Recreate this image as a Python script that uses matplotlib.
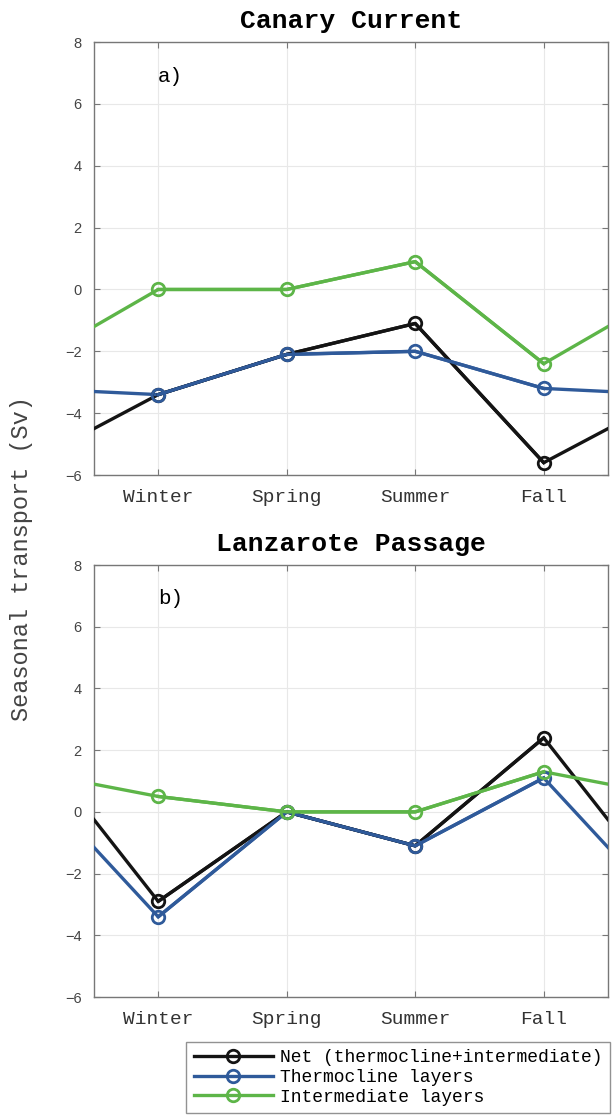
import numpy as np
import matplotlib
matplotlib.use('Agg')
import matplotlib.pyplot as plt

# season labels
seasons = ['Winter', 'Spring', 'Summer', 'Fall']

# a) Canary Current (Sv)
net_a = [-3.4, -2.1, -1.1, -5.6]
thermo_a = [-3.4, -2.1, -2.0, -3.2]
inter_a = [0.0, 0.0, 0.9, -2.4]
# values where the cyclic line meets the axis edges
net_a_edge = -4.5
thermo_a_edge = -3.3
inter_a_edge = -1.2

# b) Lanzarote Passage (Sv)
net_b = [-2.9, 0.0, -1.1, 2.4]
thermo_b = [-3.4, 0.0, -1.1, 1.1]
inter_b = [0.5, 0.0, 0.0, 1.3]
net_b_edge = -0.25
thermo_b_edge = -1.15
inter_b_edge = 0.9

labels = ['Net (thermocline+intermediate)', 'Thermocline layers', 'Intermediate layers']
colors = ['#141414', '#2f5a9a', '#5db548']

mono = 'Liberation Mono'
sans = 'Liberation Sans'

fig = plt.figure(figsize=(6.13, 11.18), dpi=100)
axA = fig.add_axes([0.1533, 0.5751, 0.8385, 0.3873])
axB = fig.add_axes([0.1533, 0.1082, 0.8385, 0.3864])

def panel(ax, series, edges, title, tag):
    xs = np.arange(1, len(seasons) + 1)
    xfull = np.concatenate([[0.5], xs, [len(seasons) + 0.5]])
    handles = []
    for vals, edge, col, lab in zip(series, edges, colors, labels):
        yfull = [edge] + list(vals) + [edge]
        ax.plot(xfull, yfull, '-', color=col, lw=2.4, zorder=3)
        h, = ax.plot(xs, vals, '-o', color=col, lw=2.4, ms=9, mfc='none',
                     mew=2.0, zorder=4, label=lab)
        handles.append(h)
    ax.set_xlim(0.5, len(seasons) + 0.5)
    ax.set_ylim(-6, 8)
    ax.set_xticks(xs)
    ax.set_xticklabels(seasons, family=mono, fontsize=14, color='#333333')
    ax.set_yticks(np.arange(-6, 9, 2))
    for t in ax.get_yticklabels():
        t.set_family(sans)
        t.set_fontsize(10.5)
        t.set_color('#444444')
    ax.tick_params(axis='x', direction='in', top=True, length=4, color='#777777', pad=10)
    ax.tick_params(axis='y', direction='in', right=True, length=4, color='#777777', pad=9)
    ax.grid(True, color='#e8e8e8', lw=0.8)
    ax.set_axisbelow(True)
    for s in ax.spines.values():
        s.set_color('#777777')
        s.set_linewidth(1.0)
    ax.set_title(title, family=mono, fontweight='bold', fontsize=19, pad=10)
    ax.text(1, 6.9, tag, family=mono, fontsize=15, ha='left', va='center')
    return handles

hs = panel(axA, [net_a, thermo_a, inter_a], [net_a_edge, thermo_a_edge, inter_a_edge],
           'Canary Current', 'a)')
panel(axB, [net_b, thermo_b, inter_b], [net_b_edge, thermo_b_edge, inter_b_edge],
      'Lanzarote Passage', 'b)')

fig.text(0.035, 0.5, 'Seasonal transport (Sv)', family=mono, fontsize=17,
         rotation=90, ha='center', va='center', color='#444444')

leg = fig.legend(handles=hs, loc='upper right', bbox_to_anchor=(0.995, 1 - 1042 / 1118),
                 prop={'family': mono, 'size': 13}, frameon=True, fancybox=False,
                 edgecolor='#777777', handlelength=4.4, labelspacing=0.15,
                 borderpad=0.4, handletextpad=0.4, borderaxespad=0)
leg.get_frame().set_linewidth(1.0)

fig.savefig('out.png', dpi=100)
